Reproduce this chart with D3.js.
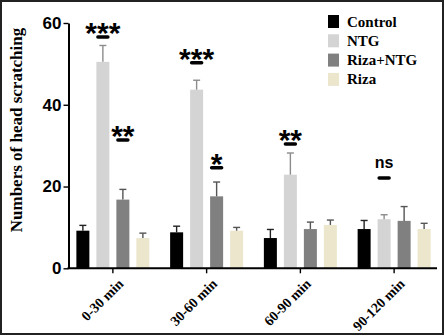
<!DOCTYPE html>
<html>
<head>
<meta charset="utf-8">
<script src="https://cdn.jsdelivr.net/npm/d3@7"></script>
<style>
  body { margin: 0; background: #fff; }
  svg { display: block; }
</style>
</head>
<body>
<svg id="canvas" width="445" height="336"></svg>
<script>
// time windows on the x axis
var groups = ["0-30 min", "30-60 min", "60-90 min", "90-120 min"];
var series = ["Control", "NTG", "Riza+NTG", "Riza"];
var colors = ["#000000", "#d4d4d4", "#808080", "#ece6cd"];
var errColors = ["#222222", "#8c8c8c", "#555555", "#555555"];

// mean values per series (one per time window)
var controlMean = [9.2, 8.8, 7.4, 9.6];
var ntgMean = [50.5, 43.7, 22.9, 12.0];
var rizaNtgMean = [16.8, 17.6, 9.6, 11.6];
var rizaMean = [7.4, 9.2, 10.6, 9.6];

// top of the error bars
var controlErr = [10.5, 10.3, 9.5, 11.7];
var ntgErr = [54.5, 46.0, 28.2, 13.1];
var rizaNtgErr = [19.3, 21.1, 11.3, 15.1];
var rizaErr = [8.6, 10.0, 11.8, 11.0];

var yTicks = [0, 20, 40, 60];

// significance marks: group, series, label, level of the dash
var sigGroup = ["0-30 min", "0-30 min", "30-60 min", "30-60 min", "60-90 min", "90-120 min"];
var sigSeries = ["NTG", "Riza+NTG", "NTG", "Riza+NTG", "NTG", "NTG"];
var sigLabel = ["***", "**", "***", "*", "**", "ns"];
var sigLevel = [56.6, 31.4, 50.3, 24.6, 30.4, 22.1];

var means = [controlMean, ntgMean, rizaNtgMean, rizaMean];
var errs = [controlErr, ntgErr, rizaNtgErr, rizaErr];

var svg = d3.select("#canvas"),
  width = +svg.attr("width"),
  height = +svg.attr("height");

var serif = "'Liberation Serif', 'Times New Roman', serif";
var sans = "'Liberation Sans', Arial, sans-serif";

// outer frame
svg.append("rect")
  .attr("x", 1).attr("y", 1)
  .attr("width", width - 3).attr("height", height - 3)
  .attr("fill", "#fff")
  .attr("stroke", "#222")
  .attr("stroke-width", 2);

var axisLeft = 68.5, axisRight = 437;

var y = d3.scaleLinear().domain([0, 60]).range([268.3, 23]);
var x = d3.scaleBand().domain(groups).range([66, 441]).padding(0);
var xs = d3.scaleBand().domain(series).range([-40, 40])
  .paddingInner(0.35).paddingOuter(0.175);

//flatten into bar records
var bars = [];
groups.forEach(function(g, gi) {
  series.forEach(function(s, si) {
    bars.push({group: g, series: s, si: si, value: means[si][gi], err: errs[si][gi]});
  });
});

function barX(d) { return x(d.group) + x.bandwidth() / 2 + xs(d.series); }

svg.append("g").selectAll("rect")
  .data(bars)
  .enter().append("rect")
  .attr("x", barX)
  .attr("y", function(d) { return y(d.value); })
  .attr("width", xs.bandwidth())
  .attr("height", function(d) { return y(0) - y(d.value); })
  .attr("fill", function(d) { return colors[d.si]; });

// error bars (upper only)
var eb = svg.append("g").selectAll("g")
  .data(bars)
  .enter().append("g")
  .attr("stroke", function(d) { return errColors[d.si]; })
  .attr("stroke-width", 1.4);
eb.append("line")
  .attr("x1", function(d) { return barX(d) + xs.bandwidth() / 2; })
  .attr("x2", function(d) { return barX(d) + xs.bandwidth() / 2; })
  .attr("y1", function(d) { return y(d.value); })
  .attr("y2", function(d) { return y(d.err); });
eb.append("line")
  .attr("x1", function(d) { return barX(d) + xs.bandwidth() / 2 - 3.5; })
  .attr("x2", function(d) { return barX(d) + xs.bandwidth() / 2 + 3.5; })
  .attr("y1", function(d) { return y(d.err); })
  .attr("y2", function(d) { return y(d.err); });

// y axis with minor ticks
var yAxisG = svg.append("g").attr("transform", "translate(" + axisLeft + ",0)");
yAxisG.call(d3.axisLeft(y).tickValues(d3.range(0, 61, 2)).tickFormat("").tickSize(3).tickSizeOuter(0));
yAxisG.call(d3.axisLeft(y).tickValues(yTicks).tickSize(5).tickSizeOuter(0).tickPadding(2));
yAxisG.selectAll("path.domain").attr("stroke", "#000").attr("stroke-width", 2);
yAxisG.selectAll(".tick line").attr("stroke", "#000").attr("stroke-width", 1.4);
yAxisG.selectAll("text")
  .attr("font-family", sans)
  .attr("font-weight", "bold")
  .attr("font-size", 17)
  .attr("fill", "#000");

// x axis
var xAxisG = svg.append("g").attr("transform", "translate(0," + y(0) + ")");
xAxisG.call(d3.axisBottom(x).tickSize(5).tickSizeOuter(0).tickPadding(4));
xAxisG.select("path.domain").remove();
xAxisG.append("line")
  .attr("x1", axisLeft - 1).attr("x2", axisRight)
  .attr("stroke", "#000").attr("stroke-width", 2);
xAxisG.selectAll(".tick line").attr("stroke", "#000").attr("stroke-width", 1.4);
xAxisG.selectAll(".tick text")
  .attr("font-family", serif)
  .attr("font-weight", "bold")
  .attr("font-size", 14)
  .attr("fill", "#000")
  .attr("text-anchor", "end")
  .attr("dy", null)
  .attr("transform", "translate(5,10) rotate(-45)");

// y axis title
svg.append("text")
  .attr("transform", "translate(22,130) rotate(-90)")
  .attr("text-anchor", "middle")
  .attr("font-family", serif)
  .attr("font-weight", "bold")
  .attr("font-size", 17)
  .text("Numbers of head scratching");

// significance marks
var sig = sigLabel.map(function(l, i) {
  return {group: sigGroup[i], series: sigSeries[i], label: l, level: sigLevel[i]};
});
var sg = svg.append("g").selectAll("g")
  .data(sig)
  .enter().append("g");
sg.append("line")
  .attr("x1", function(d) { return barX(d) + xs.bandwidth() / 2 - 5; })
  .attr("x2", function(d) { return barX(d) + xs.bandwidth() / 2 + 5; })
  .attr("y1", function(d) { return y(d.level); })
  .attr("y2", function(d) { return y(d.level); })
  .attr("stroke", "#000")
  .attr("stroke-width", 3.5)
  .attr("stroke-linecap", "round");
sg.append("text")
  .attr("x", function(d) { return barX(d) + xs.bandwidth() / 2; })
  .attr("y", function(d) { return d.label == "ns" ? y(d.level) - 10 : y(d.level) + 6; })
  .attr("text-anchor", "middle")
  .attr("font-family", sans)
  .attr("font-weight", "bold")
  .attr("font-size", function(d) { return d.label == "ns" ? 16 : 30; })
  .text(function(d) { return d.label; });

// legend
var legend = svg.append("g").selectAll("g")
  .data(series)
  .enter().append("g")
  .attr("transform", function(d, i) { return "translate(328," + (15 + i * 19.3) + ")"; });
legend.append("rect")
  .attr("width", 11).attr("height", 13)
  .attr("fill", function(d, i) { return colors[i]; });
legend.append("text")
  .attr("x", 19).attr("y", 11.5)
  .attr("font-family", serif)
  .attr("font-weight", "bold")
  .attr("font-size", 15)
  .text(function(d) { return d; });
</script>
</body>
</html>
